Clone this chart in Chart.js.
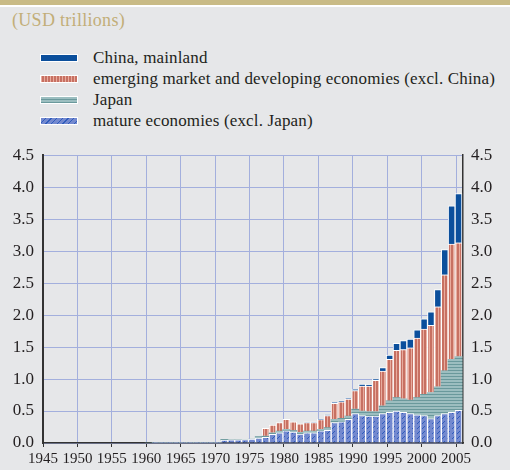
<!DOCTYPE html>
<html>
<head>
<meta charset="utf-8">
<script src="https://cdn.jsdelivr.net/npm/chart.js@4.4.1/dist/chart.umd.min.js"></script>
<style>
body { margin:0; width:510px; height:470px; background:#e6e7e9; position:relative; overflow:hidden; font-family:"Liberation Serif", "Times New Roman", serif; }
#band { position:absolute; left:0; top:0; width:510px; height:5px; background:#c9bb86; }
#band2 { position:absolute; left:0; top:5px; width:510px; height:2px; background:#fff; }
#title { position:absolute; left:12px; top:10px; font-size:18px; letter-spacing:0.3px; color:#c2ae78; }
#legend { position:absolute; left:40px; top:47px; }
.row { height:21px; display:flex; align-items:center; font-size:17px; letter-spacing:0.15px; color:#231f20; }
.sw { width:36px; height:6px; border:1px solid #fff; margin-right:15px; }
#wrap { position:absolute; left:0; top:136px; width:510px; height:334px; }
</style>
</head>
<body>
<div id="band"></div>
<div id="band2"></div>
<div id="title">(USD trillions)</div>
<div id="legend">
  <div class="row"><span class="sw" style="background:#0b4f9c"></span>China, mainland</div>
  <div class="row"><span class="sw" style="background:repeating-linear-gradient(90deg,#e8ab9d 0 1px,#c77062 1px 3px)"></span>emerging market and developing economies (excl. China)</div>
  <div class="row"><span class="sw" style="background:repeating-linear-gradient(0deg,#6a999c 0 1px,#9cbec0 1px 3px)"></span>Japan</div>
  <div class="row"><span class="sw" style="background:repeating-linear-gradient(135deg,#7389cf 0 3px,#2f5cbc 3px 4px)"></span>mature economies (excl. Japan)</div>
</div>
<div id="wrap"><canvas id="c" width="510" height="334"></canvas></div>
<script>
const years = [1960, 1961, 1962, 1963, 1964, 1965, 1966, 1967, 1968, 1969,
    1970, 1971, 1972, 1973, 1974, 1975, 1976, 1977, 1978, 1979,
    1980, 1981, 1982, 1983, 1984, 1985, 1986, 1987, 1988, 1989,
    1990, 1991, 1992, 1993, 1994, 1995, 1996, 1997, 1998, 1999,
    2000, 2001, 2002, 2003, 2004, 2005];

const mature = [0, 0.012, 0.012, 0.012, 0.012, 0.012, 0.012, 0.012, 0.012, 0.012,
    0.012, 0.045, 0.05, 0.05, 0.055, 0.06, 0.075, 0.09, 0.135, 0.16,
    0.19, 0.17, 0.14, 0.16, 0.16, 0.19, 0.20, 0.32, 0.33, 0.37,
    0.46, 0.43, 0.42, 0.42, 0.46, 0.48, 0.50, 0.48, 0.46, 0.44,
    0.43, 0.38, 0.43, 0.46, 0.48, 0.51];

const japan = [0, 0, 0, 0, 0, 0, 0, 0, 0, 0,
    0, 0.012, 0, 0, 0, 0, 0.025, 0.02, 0.025, 0.025,
    0.025, 0.025, 0.025, 0.025, 0.025, 0.025, 0.04, 0.05, 0.055, 0.05,
    0.07, 0.07, 0.07, 0.07, 0.12, 0.18, 0.21, 0.21, 0.21, 0.27,
    0.33, 0.41, 0.45, 0.67, 0.83, 0.84];

const emerging = [0, 0, 0, 0, 0, 0, 0, 0, 0, 0,
    0, 0, 0, 0, 0, 0, 0, 0.12, 0.12, 0.135,
    0.155, 0.135, 0.135, 0.135, 0.135, 0.15, 0.19, 0.25, 0.26, 0.265,
    0.29, 0.39, 0.40, 0.49, 0.545, 0.65, 0.74, 0.77, 0.82, 0.93,
    1.02, 1.05, 1.25, 1.50, 1.80, 1.78];

const china = [0, 0, 0, 0, 0, 0, 0, 0, 0, 0,
    0, 0, 0, 0, 0, 0, 0, 0, 0, 0,
    0, 0, 0, 0.01, 0.01, 0.01, 0.01, 0.015, 0.015, 0.015,
    0.02, 0.03, 0.02, 0.02, 0.055, 0.065, 0.11, 0.14, 0.135, 0.13,
    0.16, 0.21, 0.27, 0.395, 0.60, 0.77];

const yTicks = [0, 0.5, 1, 1.5, 2, 2.5, 3, 3.5, 4, 4.5];


function pat(w, h, draw) {
    const c = document.createElement('canvas');
    c.width = w; c.height = h;
    const g = c.getContext('2d');
    draw(g);
    return g.createPattern(c, 'repeat');
}

const emFill = pat(3, 1, g => {
    g.fillStyle = '#c77062'; g.fillRect(0, 0, 3, 1);
    g.fillStyle = '#e8ab9d'; g.fillRect(0, 0, 1, 1);
});
const jpFill = pat(1, 3, g => {
    g.fillStyle = '#9cbec0'; g.fillRect(0, 0, 1, 3);
    g.fillStyle = '#6a999c'; g.fillRect(0, 0, 1, 1);
});
const maFill = pat(5, 5, g => {
    g.fillStyle = '#7389cf'; g.fillRect(0, 0, 5, 5);
    g.fillStyle = '#2f5cbc';
    g.fillRect(4, 0, 1, 1); g.fillRect(3, 1, 1, 1); g.fillRect(2, 2, 1, 1);
});

// bars sit just right of the year tick
const pts = arr => years.map((y, i) => ({ x: y + 0.35, y: arr[i] }));

function ds(label, arr, fill, thick, border) {
    return {
        label: label,
        data: pts(arr),
        backgroundColor: fill,
        borderColor: '#ffffff',
        borderWidth: border,
        barThickness: thick,
        stack: 's'
    };
}

const font = { family: '"Liberation Serif", "Times New Roman", serif', size: 17 };

new Chart(document.getElementById('c'), {
    type: 'bar',
    data: {
        datasets: [
            ds('mature economies (excl. Japan)', mature, maFill, 6.9, 1),
            ds('Japan', japan, jpFill, 7.3, 0),
            ds('emerging market and developing economies (excl. China)', emerging, emFill, 6.9, 1),
            ds('China, mainland', china, '#0b4f9c', 6.9, 1)
        ]
    },
    options: {
        responsive: false,
        animation: false,
        devicePixelRatio: 1,
        layout: { padding: { top: 15 } },
        plugins: { legend: { display: false }, tooltip: { enabled: false } },
        scales: {
            x: {
                type: 'linear',
                stacked: true,
                offset: false,
                min: 1945,
                max: 2006,
                grid: { color: '#a3afdd', tickColor: '#333', tickLength: 4, offset: false },
                border: { color: '#333', width: 1.5 },
                ticks: {
                    stepSize: 5,
                    includeBounds: false,
                    autoSkip: false,
                    maxRotation: 0,
                    padding: 3,
                    color: '#231f20',
                    font: { family: font.family, size: 15 },
                    callback: v => String(v)
                },
                afterFit: s => { s.height = 27; }
            },
            y: {
                stacked: true,
                min: 0,
                max: 4.5,
                afterBuildTicks: s => { s.ticks = yTicks.map(v => ({ value: v })); },
                grid: { color: '#a3afdd', drawTicks: false },
                border: { color: '#333', width: 2 },
                ticks: { padding: 9, color: '#231f20', font: font, callback: v => v.toFixed(1) },
                afterFit: s => { s.width = 43; }
            },
            y2: {
                position: 'right',
                min: 0,
                max: 4.5,
                afterBuildTicks: s => { s.ticks = yTicks.map(v => ({ value: v })); },
                grid: { display: false, drawTicks: false },
                border: { color: '#333', width: 1.5 },
                ticks: { padding: 8, color: '#231f20', font: font, callback: v => v.toFixed(1) },
                afterFit: s => { s.width = 47; }
            }
        }
    }
});
</script>
</body>
</html>
